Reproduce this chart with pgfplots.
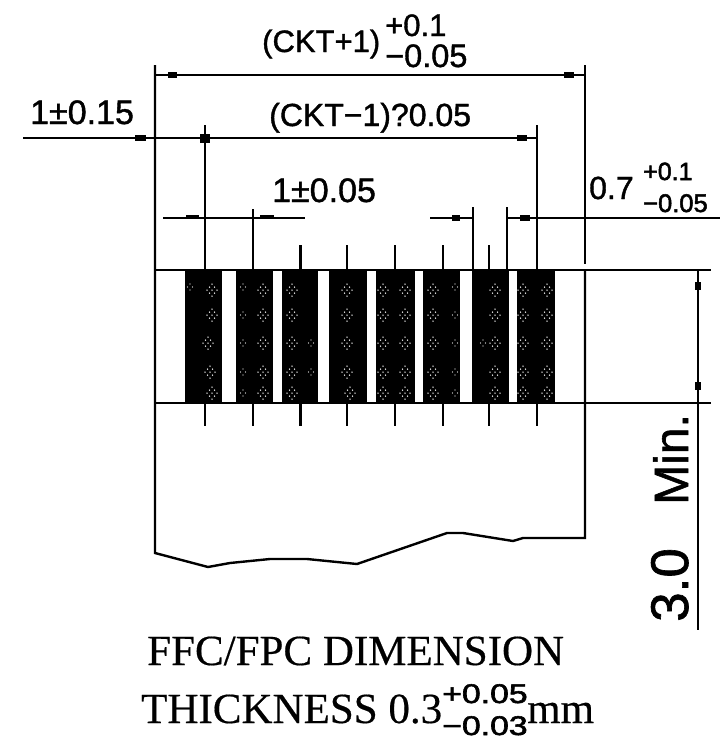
\documentclass[border=0pt]{standalone}
\usepackage{pgfplots}
\pgfplotsset{compat=1.18}
\usepackage{fontspec}
\setmainfont{Liberation Sans}
\newfontfamily\thick[FakeBold=1.2]{Liberation Sans}
\newfontfamily\thicker[FakeBold=2]{Liberation Sans}
\newfontfamily\serif[FakeBold=0.4]{Liberation Serif}
\pgfdeclareplotmark{cluster}{%
  \pgfsetfillcolor{white}%
  \foreach \a/\b in {0/6,-2.5/3,2.5/3,0/0,-2.5/-3,2.5/-3,0/-6,-5/0,5/0}{%
    \pgfpathcircle{\pgfpoint{\a pt}{\b pt}}{0.75pt}\pgfusepathqfill}%
}
\pgfdeclareplotmark{dotpair}{%
  \pgfsetfillcolor{white}%
  \foreach \a/\b in {0/3,-2.5/0,2.5/0,0/-3}{%
    \pgfpathcircle{\pgfpoint{\a pt}{\b pt}}{0.7pt}\pgfusepathqfill}%
}
\begin{document}
\begin{tikzpicture}[x=1pt,y=1pt]
\path[use as bounding box] (0,0) rectangle (720,740);
\begin{axis}[
  at={(0,0)}, anchor=south west,
  scale only axis, width=720pt, height=740pt,
  xmin=0, xmax=720, ymin=0, ymax=740, y dir=reverse,
  axis lines=none, clip=false,
  dim/.style={black, line width=2.4pt, no markers},
  ]
% conductors
\addplot[fill=black, draw=none, no markers] coordinates {(185,270)(222,270)(222,403)(185,403)};
\addplot[fill=black, draw=none, no markers] coordinates {(236,270)(273,270)(273,403)(236,403)};
\addplot[fill=black, draw=none, no markers] coordinates {(282,270)(318,270)(318,403)(282,403)};
\addplot[fill=black, draw=none, no markers] coordinates {(329,270)(367,270)(367,403)(329,403)};
\addplot[fill=black, draw=none, no markers] coordinates {(376,270)(415,270)(415,403)(376,403)};
\addplot[fill=black, draw=none, no markers] coordinates {(423,270)(460,270)(460,403)(423,403)};
\addplot[fill=black, draw=none, no markers] coordinates {(472,270)(509,270)(509,403)(472,403)};
\addplot[fill=black, draw=none, no markers] coordinates {(517,270)(555,270)(555,403)(517,403)};
% speckle
\addplot[only marks, mark=cluster] coordinates {
(212,290)(212,315)(208,343)(210,372)(212,393)
(263,290)(263,315)(263,343)(263,372)(263,393)
(292,290)(292,315)(292,343)(292,372)(292,393)
(347,290)(347,315)(347,343)(347,372)(350,393)
(383,290)(383,315)(383,343)(383,372)(383,393)
(405,290)(405,315)(405,343)(405,372)(405,393)
(433,290)(433,315)(433,343)(433,372)(433,393)
(495,290)(495,315)(495,343)(495,372)(495,393)
(523,290)(523,315)(523,343)(523,372)(523,393)
(547,290)(547,315)(547,343)(547,372)(547,393)};
\addplot[only marks, mark=dotpair] coordinates {
(190,287)(243,287)(243,315)(243,343)(243,372)(243,393)
(311,343)(311,372)(455,287)(455,315)(455,343)(455,372)(455,393)
(483,343)};
% outline
\addplot[dim] coordinates {(155,65)(155,553)(208,567)(230,563)(270,559)(307,559)(357,564)(447,533)(463,533)(513,541)(523,538)(585,538)(585,270)};
\addplot[dim] coordinates {(585,65)(585,264)};
\addplot[dim] coordinates {(155,270)(711,270)};
\addplot[dim] coordinates {(155,403)(711,403)};
% leaders, top
\addplot[dim] coordinates {(205,125)(205,270)};
\addplot[dim] coordinates {(253,209)(253,270)};
\addplot[dim] coordinates {(300.5,245)(300.5,270)};
\addplot[dim] coordinates {(347,245)(347,270)};
\addplot[dim] coordinates {(395,245)(395,270)};
\addplot[dim] coordinates {(443,245)(443,270)};
\addplot[dim] coordinates {(489,245)(489,270)};
\addplot[dim] coordinates {(473,207)(473,270)};
\addplot[dim] coordinates {(507,207)(507,270)};
\addplot[dim] coordinates {(537,125)(537,270)};
% leaders, bottom
\addplot[dim] coordinates {(205,403)(205,426)};
\addplot[dim] coordinates {(253,403)(253,426)};
\addplot[dim] coordinates {(300.5,403)(300.5,426)};
\addplot[dim] coordinates {(347,403)(347,426)};
\addplot[dim] coordinates {(395,403)(395,426)};
\addplot[dim] coordinates {(443,403)(443,426)};
\addplot[dim] coordinates {(489,403)(489,426)};
\addplot[dim] coordinates {(537,403)(537,426)};
% dimension lines
\addplot[dim] coordinates {(155,75)(585,75)};
\addplot[dim] coordinates {(23,138)(537,138)};
\addplot[dim] coordinates {(163,218)(305,218)};
\addplot[dim] coordinates {(430,218)(473,218)};
\addplot[dim] coordinates {(507,218)(720,218)};
\addplot[dim] coordinates {(698,270)(698,630)};
% arrow blobs
\addplot[black, line width=5.5pt, no markers] coordinates {(168,75)(177,75)};
\addplot[black, line width=5.5pt, no markers] coordinates {(564,75)(574,75)};
\addplot[black, line width=5.5pt, no markers] coordinates {(135,138)(146,138)};
\addplot[black, line width=9pt, no markers] coordinates {(200,138)(210,138)};
\addplot[black, line width=5.5pt, no markers] coordinates {(517,138)(527,138)};
\addplot[black, line width=4.5pt, no markers] coordinates {(186,217)(199,217)};
\addplot[black, line width=4.5pt, no markers] coordinates {(260,217)(274,217)};
\addplot[black, line width=5.5pt, no markers] coordinates {(452,218)(460,218)};
\addplot[black, line width=5.5pt, no markers] coordinates {(520,218)(530,218)};
\addplot[black, line width=5.5pt, no markers] coordinates {(698,282)(698,290)};
\addplot[black, line width=5.5pt, no markers] coordinates {(698,382)(698,390)};
% text
\node[anchor=base west, font=\thick\fontsize{31}{31}\selectfont, inner sep=0] at (axis cs:262,52) {(CKT+1)};
\node[anchor=base west, font=\thick\fontsize{31}{31}\selectfont, inner sep=0] at (axis cs:385,36) {+0.1};
\node[anchor=base west, font=\thick\fontsize{32.5}{33}\selectfont, inner sep=0] at (axis cs:385,67) {−0.05};
\node[anchor=base west, font=\thick\fontsize{34}{34}\selectfont, inner sep=0] at (axis cs:30,124) {1±0.15};
\node[anchor=base west, font=\thick\fontsize{32}{32}\selectfont, inner sep=0] at (axis cs:269,126) {(CKT−1)?0.05};
\node[anchor=base west, font=\thick\fontsize{34}{34}\selectfont, inner sep=0] at (axis cs:272,202) {1±0.05};
\node[anchor=base west, font=\thick\fontsize{32}{32}\selectfont, inner sep=0] at (axis cs:589,199) {0.7};
\node[anchor=base west, font=\thicker\fontsize{25}{25}\selectfont, inner sep=0] at (axis cs:643,180) {+0.1};
\node[anchor=base west, font=\thicker\fontsize{25.5}{26}\selectfont, inner sep=0] at (axis cs:643,212) {−0.05};
\node[anchor=base west, rotate=90, font=\thick\fontsize{53}{53}\selectfont, inner sep=0] at (axis cs:688,622) {3.0};
\node[anchor=base west, rotate=90, font=\thick\fontsize{48}{48}\selectfont, inner sep=0] at (axis cs:688,505) {Min.};
\node[anchor=base west, font=\serif\fontsize{43}{43}\selectfont, inner sep=0] at (axis cs:147,665) {FFC/FPC DIMENSION};
\node[anchor=base west, font=\serif\fontsize{43}{43}\selectfont, inner sep=0] at (axis cs:141,723) {THICKNESS 0.3};
\node[anchor=base west, xscale=1.25, font=\thicker\fontsize{27}{27}\selectfont, inner sep=0] at (axis cs:442,703) {+0.05};
\node[anchor=base west, xscale=1.25, font=\thicker\fontsize{27}{27}\selectfont, inner sep=0] at (axis cs:442,735) {−0.03};
\node[anchor=base west, font=\serif\fontsize{43}{43}\selectfont, inner sep=0] at (axis cs:527,723) {mm};
\end{axis}
\end{tikzpicture}
\end{document}
